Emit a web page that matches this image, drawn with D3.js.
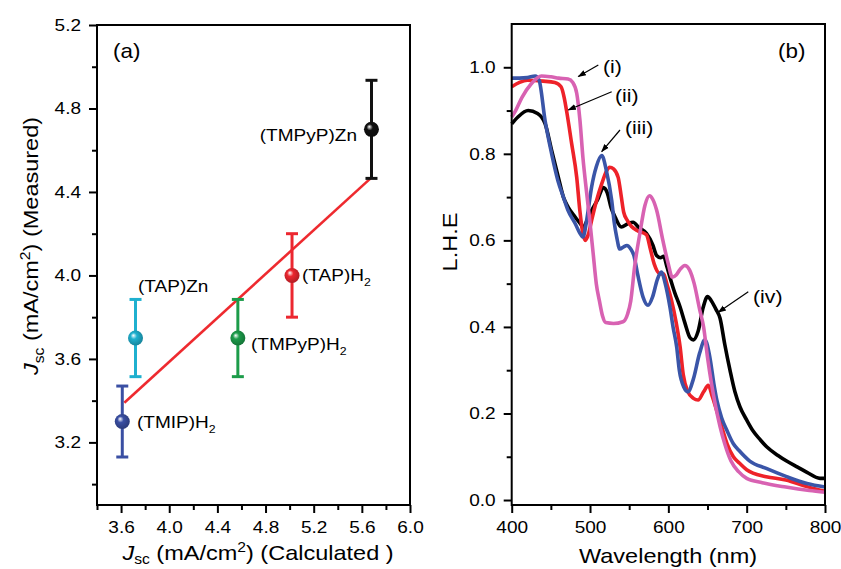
<!DOCTYPE html>
<html><head><meta charset="utf-8">
<script src="https://cdn.jsdelivr.net/npm/d3@7"></script>
<style>body{margin:0;background:#fff}svg{display:block}text{font-family:"Liberation Sans",Arial,sans-serif}</style>
</head><body>
<svg id="c" width="841" height="569"></svg>
<script>
// ---------- DATA: panel (a) ----------
const samples   = ["(TMIP)H2", "(TAP)Zn", "(TMPyP)H2", "(TAP)H2", "(TMPyP)Zn"];
const jscCalc   = [3.61, 3.72, 4.57, 5.02, 5.68];
const jscMeas   = [3.30, 3.70, 3.70, 4.00, 4.70];
const jscErr    = [0.17, 0.185, 0.185, 0.20, 0.235];
const sampleColors = ["#3a4fa3", "#1fb0cf", "#1c9c4a", "#ec2730", "#111111"];
const fitLine   = [[3.627, 3.39], [5.67, 4.464]];
const aXTicks = [3.6, 4.0, 4.4, 4.8, 5.2, 5.6, 6.0];
const aXMinor = [3.4, 3.8, 4.2, 4.6, 5.0, 5.4, 5.8];
const aYTicks = [3.2, 3.6, 4.0, 4.4, 4.8, 5.2];
const aYMinor = [3.0, 3.4, 3.8, 4.2, 4.6, 5.0];

// ---------- DATA: panel (b) ----------
const seriesI = [[400,0.885],[405,0.9],[413,0.93],[425,0.962],[438,0.98],[450,0.978],[460,0.975],[472,0.973],[478,0.965],[483,0.94],[487,0.88],[491,0.79],[495.7,0.71],[500,0.64],[504,0.57],[508,0.5],[512,0.46],[516,0.425],[520,0.41],[530,0.408],[542,0.412],[548,0.43],[552,0.46],[557,0.54],[564,0.62],[570,0.68],[576,0.703],[580,0.695],[585,0.67],[593,0.6],[600,0.545],[605,0.515],[610,0.52],[615,0.533],[621,0.542],[627,0.532],[633,0.5],[640,0.44],[645,0.4],[650,0.33],[655,0.27],[660,0.22],[666,0.17],[672,0.13],[680,0.09],[690,0.065],[700,0.05],[720,0.04],[750,0.03],[780,0.022],[800,0.018]];
const seriesII = [[400,0.955],[410,0.965],[420,0.97],[440,0.968],[455,0.965],[463,0.955],[467,0.93],[470,0.9],[476.6,0.823],[483,0.746],[487,0.669],[491,0.615],[494,0.6],[498,0.615],[502,0.646],[508,0.69],[515,0.731],[521,0.76],[525,0.769],[530,0.765],[536,0.745],[540,0.7],[543,0.665],[548,0.645],[553,0.632],[560,0.623],[572,0.613],[577,0.58],[582,0.545],[589,0.523],[594,0.522],[598,0.5],[604,0.462],[610,0.41],[615,0.354],[619,0.29],[625,0.25],[632,0.235],[638,0.231],[645,0.25],[651,0.265],[656,0.24],[662,0.205],[668,0.17],[675,0.13],[683,0.1],[691,0.085],[700,0.07],[708,0.062],[725,0.054],[750,0.046],[777,0.031],[800,0.02]];
const seriesIII = [[400,0.975],[410,0.975],[420,0.976],[430,0.98],[435,0.97],[442.6,0.877],[451,0.8],[459,0.738],[466,0.7],[472,0.669],[481,0.639],[489,0.611],[491,0.608],[496,0.65],[502,0.723],[508,0.77],[515,0.796],[521,0.76],[527.7,0.692],[531,0.64],[534,0.608],[538,0.58],[543,0.585],[547,0.588],[552,0.58],[556,0.565],[561,0.52],[567.7,0.469],[574,0.45],[580,0.47],[586,0.51],[591,0.527],[596,0.5],[602,0.446],[606,0.4],[610.6,0.354],[614,0.3],[620,0.26],[625,0.25],[632,0.28],[640,0.34],[646.7,0.37],[653,0.33],[658,0.27],[662,0.23],[668,0.19],[675,0.16],[683,0.13],[690,0.115],[704,0.09],[725,0.073],[751,0.054],[777,0.038],[800,0.03]];
const seriesIV = [[400,0.869],[408,0.885],[421,0.9],[433,0.893],[438,0.885],[442.6,0.87],[451,0.808],[459.5,0.746],[466,0.7],[472,0.677],[481,0.654],[489,0.635],[491,0.63],[496,0.645],[502,0.669],[510,0.695],[517,0.722],[522,0.71],[527,0.675],[532,0.654],[540,0.631],[548,0.638],[555,0.642],[562,0.63],[572,0.616],[580,0.59],[585,0.565],[590,0.56],[594,0.563],[598,0.54],[602,0.515],[608,0.48],[615,0.446],[621,0.41],[627.7,0.375],[632,0.37],[638,0.39],[644.6,0.446],[650,0.47],[655,0.46],[661,0.44],[666,0.42],[672,0.36],[678.7,0.3],[685,0.25],[691.5,0.215],[700,0.185],[708,0.16],[717,0.14],[725.5,0.123],[740,0.103],[751,0.09],[765,0.076],[777,0.064],[793.6,0.05],[800,0.05]];
const seriesNames = ["(i)", "(ii)", "(iii)", "(iv)"];
const seriesColors = ["#d862b2", "#ee2229", "#3a55a8", "#000000"];
const bXTicks = [400, 500, 600, 700, 800];
const bXMinor = [450, 550, 650, 750];
const bYTicks = [0.0, 0.2, 0.4, 0.6, 0.8, 1.0];
const bYMinor = [0.1, 0.3, 0.5, 0.7, 0.9];

// ---------- DRAW ----------
const SX = 1.12;
const svg = d3.select("#c");
const defs = svg.append("defs");

function stretchAxisText(g) {
  g.selectAll("text").each(function() {
    const t = d3.select(this);
    t.attr("x", (+t.attr("x") || 0) / SX).attr("transform", `scale(${SX},1)`);
  });
}
function frame(g, xr, yr) {
  g.append("rect").attr("x", xr[0]).attr("y", yr[1]).attr("width", xr[1]-xr[0]).attr("height", yr[0]-yr[1])
    .attr("fill", "none").attr("stroke", "#000").attr("stroke-width", 2);
}
function axes(g, x, y, xt, xm, yt, ym, xfmt, yfmt) {
  const [x0] = x.range(), [y0] = y.range();
  const gx = g.append("g").attr("transform", `translate(0,${y0})`)
    .call(d3.axisBottom(x).tickValues(xt).tickFormat(xfmt).tickSize(8).tickPadding(8));
  g.append("g").attr("transform", `translate(0,${y0})`)
    .call(d3.axisBottom(x).tickValues(xm).tickFormat("").tickSize(5));
  const gy = g.append("g").attr("transform", `translate(${x0},0)`)
    .call(d3.axisLeft(y).tickValues(yt).tickFormat(yfmt).tickSize(8).tickPadding(8));
  g.append("g").attr("transform", `translate(${x0},0)`)
    .call(d3.axisLeft(y).tickValues(ym).tickFormat("").tickSize(5));
  g.selectAll(".domain").remove();
  g.selectAll(".tick line").attr("stroke", "#000").attr("stroke-width", 2);
  [gx, gy].forEach(a => { a.selectAll("text").attr("font-size", 17).attr("fill", "#000")
      .attr("font-family", '"Liberation Sans",Arial,sans-serif'); stretchAxisText(a); });
}
function sText(g, x, y, str, size, anchor) {
  return g.append("text").attr("transform", `translate(${x},${y}) scale(${SX},1)`)
    .attr("font-size", size).attr("text-anchor", anchor || "start").text(str);
}
function chemLabel(g, x, y, name, anchor) {
  const t = g.append("text").attr("transform", `translate(${x},${y}) scale(${SX},1)`)
    .attr("font-size", 17).attr("text-anchor", anchor || "start");
  const m = name.match(/^(.*?)(\d)$/);
  if (m) { t.append("tspan").text(m[1]); t.append("tspan").attr("font-size", 11).attr("dy", 5).text(m[2]); }
  else t.text(name);
}
function jscLabel(t, rest, sub) {
  t.append("tspan").attr("font-style", "italic").text("J");
  t.append("tspan").attr("font-size", 14).attr("dy", sub).text("sc");
  t.append("tspan").attr("dy", -sub).text(" (mA/cm");
  t.append("tspan").attr("font-size", 14).attr("dy", -8).text("2");
  t.append("tspan").attr("dy", 8).text(rest);
}

// ----- Panel (a) -----
const ga = svg.append("g");
const xa = d3.scaleLinear().domain([3.4, 6.0]).range([97, 410]);
const ya = d3.scaleLinear().domain([2.9, 5.2]).range([505, 25]);
axes(ga, xa, ya, aXTicks, aXMinor, aYTicks, aYMinor, d3.format(".1f"), d3.format(".1f"));

ga.append("line").attr("x1", xa(fitLine[0][0])).attr("y1", ya(fitLine[0][1]))
  .attr("x2", xa(fitLine[1][0])).attr("y2", ya(fitLine[1][1]))
  .attr("stroke", "#ee2a2f").attr("stroke-width", 2.6);

samples.forEach((s, i) => {
  const c = sampleColors[i];
  const grad = defs.append("radialGradient").attr("id", "g" + i).attr("cx", "0.45").attr("cy", "0.45")
    .attr("fx", "0.35").attr("fy", "0.32").attr("r", "0.6");
  grad.append("stop").attr("offset", "0").attr("stop-color", "#ffffff");
  grad.append("stop").attr("offset", "0.35").attr("stop-color", c);
  grad.append("stop").attr("offset", "1").attr("stop-color", d3.color(c).darker(0.9));
  const cx = xa(jscCalc[i]), top = ya(jscMeas[i] + jscErr[i]), bot = ya(jscMeas[i] - jscErr[i]);
  const eg = ga.append("g").attr("stroke", c).attr("stroke-width", 3);
  eg.append("line").attr("x1", cx).attr("x2", cx).attr("y1", top).attr("y2", bot);
  eg.append("line").attr("x1", cx - 6).attr("x2", cx + 6).attr("y1", top).attr("y2", top);
  eg.append("line").attr("x1", cx - 6).attr("x2", cx + 6).attr("y1", bot).attr("y2", bot);
  ga.append("circle").attr("cx", cx).attr("cy", ya(jscMeas[i])).attr("r", 7.5).attr("fill", `url(#g${i})`);
});
chemLabel(ga, 357, 141, samples[4], "end");
chemLabel(ga, 302, 281, samples[3]);
chemLabel(ga, 138, 292, samples[1]);
chemLabel(ga, 251, 350, samples[2]);
chemLabel(ga, 137, 428, samples[0]);
sText(ga, 113, 58, "(a)", 20);

const xla = ga.append("text").attr("transform", `translate(258,560) scale(${SX},1)`)
  .attr("font-size", 21).attr("text-anchor", "middle");
jscLabel(xla, ") (Calculated )", 4);
const yla = ga.append("text").attr("transform", `translate(38,246) rotate(-90) scale(${SX},1)`)
  .attr("font-size", 21).attr("text-anchor", "middle");
jscLabel(yla, ") (Measured)", 6);
frame(ga, xa.range(), ya.range());

// ----- Panel (b) -----
const gb = svg.append("g");
const xb = d3.scaleLinear().domain([400, 800]).range([511.7, 825]);
const yb = d3.scaleLinear().domain([-0.0115, 1.1]).range([505, 24]);
axes(gb, xb, yb, bXTicks, bXMinor, bYTicks, bYMinor, d3.format("d"), d3.format(".1f"));

const line = d3.line().x(d => xb(d[0])).y(d => yb(d[1])).curve(d3.curveMonotoneX);
const allSeries = [seriesI, seriesII, seriesIII, seriesIV];
[3, 1, 2, 0].forEach(i => {
  gb.append("path").datum(allSeries[i]).attr("d", line).attr("fill", "none")
    .attr("stroke", seriesColors[i]).attr("stroke-width", 3.6).attr("stroke-linejoin", "round");
});
frame(gb, xb.range(), yb.range());

defs.append("marker").attr("id", "ah").attr("viewBox", "0 0 10 10").attr("refX", 9).attr("refY", 5)
  .attr("markerWidth", 7).attr("markerHeight", 7).attr("orient", "auto-start-reverse")
  .append("path").attr("d", "M0,1.5 L10,5 L0,8.5 Z").attr("fill", "#000");
const arrows = [[598.3,65,578.3,76.5],[611.7,91.7,568.3,110],[620,130,601.7,151.7],[748.3,291.7,718.3,312.3]];
arrows.forEach(a => gb.append("line").attr("x1", a[0]).attr("y1", a[1]).attr("x2", a[2]).attr("y2", a[3])
  .attr("stroke", "#000").attr("stroke-width", 1.2).attr("marker-end", "url(#ah)"));
sText(gb, 603, 73, seriesNames[0], 19);
sText(gb, 615, 102, seriesNames[1], 19);
sText(gb, 625, 134, seriesNames[2], 19);
sText(gb, 753, 303, seriesNames[3], 19);
sText(gb, 778, 58, "(b)", 20);
sText(gb, 668, 563, "Wavelength (nm)", 21, "middle");
gb.append("text").attr("transform", `translate(457,242) rotate(-90) scale(${SX},1)`)
  .attr("font-size", 21).attr("text-anchor", "middle").text("L.H.E");
</script>
</body></html>
